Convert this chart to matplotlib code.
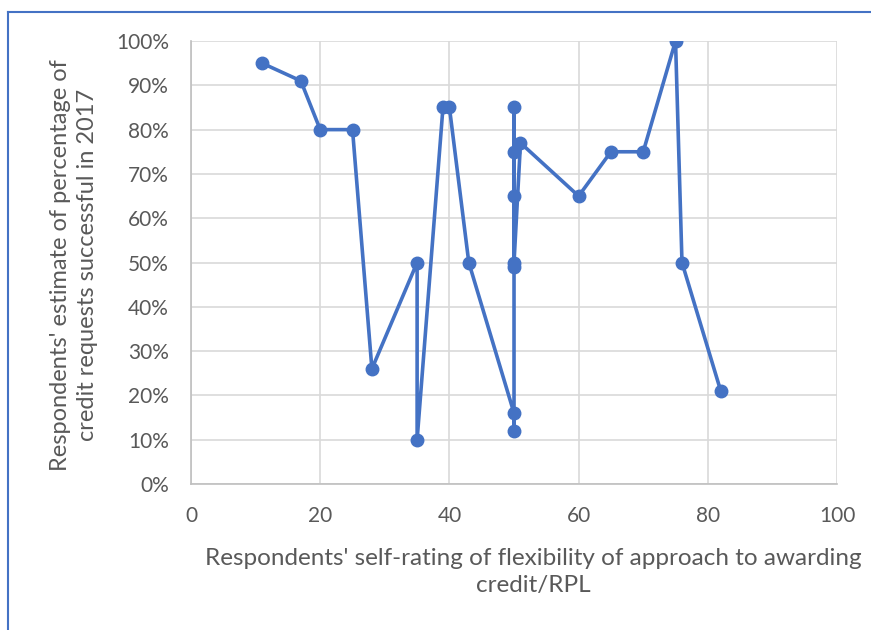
import matplotlib.pyplot as plt
from matplotlib.lines import Line2D
from matplotlib.ticker import FuncFormatter

# self-rating of flexibility (x) vs estimated % of successful credit requests (y)
flexibility = [11, 17, 20, 25, 28, 35, 35, 39, 40, 43,
               50, 50, 50, 50, 50, 50, 50, 51, 60, 65, 70, 75, 76, 82]
success_pct = [95, 91, 80, 80, 26, 50, 10, 85, 85, 50,
               16, 12, 85, 75, 65, 49, 50, 77, 65, 75, 75, 100, 50, 21]

x_ticks = [0, 20, 40, 60, 80, 100]
y_ticks = [0, 10, 20, 30, 40, 50, 60, 70, 80, 90, 100]

blue = "#4472C4"
grey_text = "#595959"
font = "Lato"

fig = plt.figure(figsize=(8.71, 6.30), dpi=100)
ax = fig.add_axes([0.2193, 0.2317, 0.7417, 0.7032])

ax.plot(flexibility, success_pct, color=blue, linewidth=2.6,
        marker="o", markersize=9, zorder=3)

ax.set_xlim(0, 100)
ax.set_ylim(0, 100)
ax.set_xticks(x_ticks)
ax.set_yticks(y_ticks)
ax.yaxis.set_major_formatter(FuncFormatter(lambda v, _: f"{v:.0f}%"))
ax.grid(True, color="#d9d9d9", linewidth=1.2)
ax.set_axisbelow(True)

for side in ["top", "right"]:
    ax.spines[side].set_visible(False)
for side in ["left", "bottom"]:
    ax.spines[side].set_color("#bfbfbf")
    ax.spines[side].set_linewidth(1.2)

ax.tick_params(length=0, labelsize=15, labelcolor=grey_text)
ax.tick_params(axis="y", pad=16)
ax.tick_params(axis="x", pad=16)
for lbl in ax.get_xticklabels() + ax.get_yticklabels():
    lbl.set_fontfamily(font)

fig.text(533 / 871, 1 - 572 / 630,
         "Respondents' self-rating of flexibility of approach to awarding\ncredit/RPL",
         ha="center", va="center", fontsize=17.5, color=grey_text,
         family=font, linespacing=1.4)
fig.text(74 / 871, 1 - 265 / 630,
         "Respondents' estimate of percentage of\ncredit requests successful in 2017",
         ha="center", va="center", rotation=90, fontsize=17, color=grey_text,
         family=font, linespacing=1.3)

# chart frame edges visible in the crop
fig.add_artist(Line2D([8 / 871, 8 / 871], [0, 1 - 12 / 630], color=blue,
                      linewidth=1.5, transform=fig.transFigure))
fig.add_artist(Line2D([8 / 871, 1], [1 - 12 / 630, 1 - 12 / 630], color=blue,
                      linewidth=1.5, transform=fig.transFigure))

fig.savefig("out.png", dpi=100)
